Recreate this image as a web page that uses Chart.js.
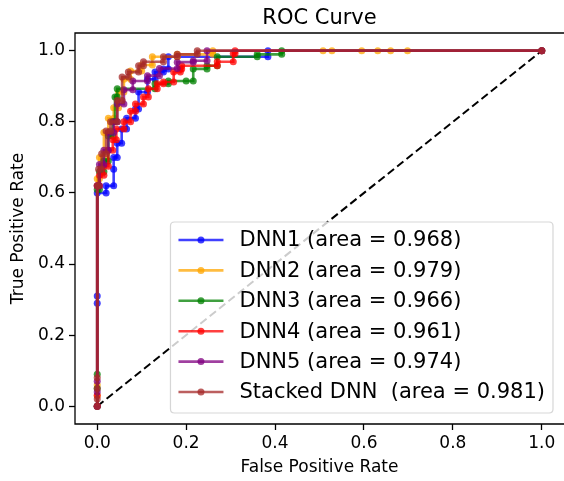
<!DOCTYPE html>
<html><head><meta charset="utf-8">
<script src="https://cdn.jsdelivr.net/npm/chart.js@4.4.1/dist/chart.umd.min.js"></script>
<style>html,body{margin:0;padding:0;background:#fff;overflow:hidden;}canvas{display:block;}</style>
</head><body>
<canvas id="c" width="564" height="481"></canvas>
<script>
const titleText = 'ROC Curve';
const xTitle = 'False Positive Rate';
const yTitle = 'True Positive Rate';
const xTicks = [0, 0.2, 0.4, 0.6, 0.8, 1.0];
const yTicks = [0, 0.2, 0.4, 0.6, 0.8, 1.0];
const seriesNames = ['DNN1', 'DNN2', 'DNN3', 'DNN4', 'DNN5', 'Stacked DNN '];
const seriesAreas = [0.968, 0.979, 0.966, 0.961, 0.974, 0.981];
const seriesColors = ['0,0,255', '255,165,0', '0,128,0', '255,0,0', '128,0,128', '165,42,42'];

const dnn1 = [[0,0],[0,0.29],[0,0.31],[0,0.6],[0.02,0.6],[0.02,0.62],[0.037,0.62],[0.037,0.667],[0.037,0.70],[0.045,0.70],[0.045,0.74],[0.055,0.74],[0.055,0.78],[0.066,0.78],[0.066,0.81],[0.086,0.81],[0.086,0.836],[0.093,0.836],[0.093,0.884],[0.113,0.884],[0.113,0.92],[0.13,0.92],[0.13,0.94],[0.149,0.94],[0.149,0.949],[0.16,0.949],[0.16,0.983],[0.384,0.983],[0.384,1.0],[1,1]];
const dnn2 = [[0,0],[0,0.03],[0,0.06],[0,0.64],[0.005,0.64],[0.005,0.70],[0.015,0.70],[0.015,0.77],[0.025,0.77],[0.025,0.81],[0.037,0.81],[0.037,0.84],[0.048,0.84],[0.048,0.884],[0.06,0.884],[0.06,0.92],[0.075,0.92],[0.075,0.943],[0.1,0.943],[0.1,0.96],[0.124,0.96],[0.124,0.983],[0.18,0.983],[0.18,0.99],[0.26,0.99],[0.26,1.0],[0.508,1],[0.528,1],[0.595,1],[0.631,1],[0.66,1],[0.698,1],[1,1]];
const dnn3 = [[0,0],[0,0.05],[0,0.09],[0,0.61],[0.005,0.61],[0.005,0.66],[0.015,0.66],[0.015,0.69],[0.025,0.69],[0.025,0.76],[0.035,0.76],[0.035,0.80],[0.04,0.80],[0.04,0.87],[0.045,0.87],[0.045,0.893],[0.13,0.893],[0.13,0.907],[0.16,0.907],[0.16,0.915],[0.2,0.915],[0.216,0.915],[0.216,0.949],[0.247,0.949],[0.247,0.958],[0.27,0.958],[0.27,0.983],[0.36,0.983],[0.36,0.99],[0.415,0.99],[0.415,1.0],[1,1]];
const dnn4 = [[0,0],[0,0.03],[0,0.62],[0.005,0.62],[0.005,0.65],[0.015,0.65],[0.015,0.675],[0.025,0.675],[0.025,0.72],[0.035,0.72],[0.035,0.75],[0.043,0.75],[0.043,0.78],[0.06,0.78],[0.06,0.80],[0.075,0.80],[0.075,0.83],[0.086,0.83],[0.086,0.85],[0.104,0.85],[0.104,0.87],[0.115,0.87],[0.115,0.893],[0.135,0.893],[0.135,0.907],[0.149,0.907],[0.149,0.912],[0.172,0.912],[0.172,0.94],[0.187,0.94],[0.187,0.949],[0.19,0.949],[0.19,0.958],[0.27,0.958],[0.27,0.969],[0.306,0.969],[0.306,0.992],[0.31,0.992],[0.31,1.0],[1,1]];
const dnn5 = [[0,0],[0,0.04],[0,0.07],[0,0.62],[0.005,0.62],[0.005,0.68],[0.015,0.68],[0.015,0.72],[0.025,0.72],[0.025,0.77],[0.037,0.77],[0.037,0.80],[0.045,0.80],[0.045,0.85],[0.06,0.85],[0.06,0.89],[0.08,0.89],[0.08,0.915],[0.113,0.915],[0.113,0.93],[0.14,0.93],[0.14,0.95],[0.18,0.95],[0.18,0.968],[0.216,0.968],[0.216,0.972],[0.247,0.972],[0.247,1.0],[1,1]];
const stacked = [[0,0],[0,0.02],[0,0.05],[0,0.08],[0,0.62],[0.003,0.62],[0.003,0.667],[0.01,0.667],[0.01,0.71],[0.02,0.71],[0.02,0.774],[0.03,0.774],[0.03,0.80],[0.045,0.80],[0.045,0.86],[0.056,0.86],[0.056,0.926],[0.07,0.926],[0.07,0.94],[0.093,0.94],[0.093,0.958],[0.104,0.958],[0.104,0.969],[0.149,0.969],[0.149,0.983],[0.18,0.983],[0.18,0.99],[0.225,0.99],[0.225,1.0],[1,1]];
const chance = [[0,0],[1,1]];
const seriesData = [dnn1, dnn2, dnn3, dnn4, dnn5, stacked];

Chart.defaults.font.family = '"DejaVu Sans", sans-serif';
Chart.defaults.color = '#000';

const datasets = seriesData.map((arr, i) => {
  const c = 'rgba(' + seriesColors[i] + ',0.75)';
  return {
    label: seriesNames[i] + ' (area = ' + seriesAreas[i].toFixed(3) + ')',
    data: arr.map(p => ({x: p[0], y: p[1]})),
    borderColor: c, backgroundColor: c, pointBackgroundColor: c,
    borderWidth: 2.6, pointRadius: 3.5, pointBorderWidth: 0, pointHoverRadius: 3.5,
    tension: 0, fill: false, order: 6 - i, showInLegend: true
  };
});
datasets.push({
  label: 'chance', data: chance.map(p => ({x: p[0], y: p[1]})),
  borderColor: '#000', borderDash: [8, 4], borderWidth: 2, pointRadius: 0,
  fill: false, order: 20, showInLegend: false
});

function axis(title, ticks, pos, titlePad) {
  return {
    type: 'linear', position: pos, min: -0.05, max: 1.05,
    afterBuildTicks: s => { s.ticks = ticks.map(v => ({value: v})); },
    afterFit: s => {
      if (pos === 'left') s.width = 75; else s.height = 57;
      s.paddingLeft = 0; s.paddingRight = 0; s.paddingTop = 0; s.paddingBottom = 0;
    },
    ticks: { font: {size: 17}, color: '#000', padding: pos === 'left' ? 4 : 3,
             callback: v => Number(v).toFixed(1), maxRotation: 0, autoSkip: false },
    grid: { display: true, drawOnChartArea: false, drawTicks: true, tickLength: 6,
            tickWidth: 1.3, tickColor: '#000' },
    border: { display: false },
    title: { display: true, text: title, font: {size: 17}, color: '#000', padding: titlePad }
  };
}

const decor = {
  id: 'decor',
  afterDatasetsDraw(chart) {
    const {ctx, chartArea: a} = chart;
    ctx.save();
    ctx.strokeStyle = '#000'; ctx.lineWidth = 1.3;
    ctx.beginPath();
    ctx.moveTo(a.right + 2, a.top); ctx.lineTo(a.left, a.top); ctx.lineTo(a.left, a.bottom); ctx.lineTo(a.right + 2, a.bottom);
    ctx.stroke();
    // legend
    const fs = 21;
    ctx.font = fs + 'px "DejaVu Sans"';
    const items = chart.data.datasets.filter(d => d.showInLegend);
    const maxW = Math.max(...items.map(d => ctx.measureText(d.label).width));
    const pad = 8, handle = 45, gap = 16, rowH = 30.4;
    const w = pad + handle + gap + maxW + pad, h = 191;
    const right = a.right - 11, bottom = a.bottom - 11;
    const left = right - w, top = bottom - h, r = 4;
    ctx.beginPath();
    ctx.moveTo(left + r, top); ctx.lineTo(right - r, top); ctx.quadraticCurveTo(right, top, right, top + r);
    ctx.lineTo(right, bottom - r); ctx.quadraticCurveTo(right, bottom, right - r, bottom);
    ctx.lineTo(left + r, bottom); ctx.quadraticCurveTo(left, bottom, left, bottom - r);
    ctx.lineTo(left, top + r); ctx.quadraticCurveTo(left, top, left + r, top); ctx.closePath();
    ctx.fillStyle = 'rgba(255,255,255,0.8)'; ctx.fill();
    ctx.strokeStyle = 'rgba(204,204,204,0.8)'; ctx.lineWidth = 1.2; ctx.stroke();
    items.forEach((d, i) => {
      const cy = top + 18 + i * rowH;
      const x0 = left + pad, x1 = x0 + handle;
      ctx.strokeStyle = d.borderColor; ctx.lineWidth = d.borderWidth;
      ctx.beginPath(); ctx.moveTo(x0, cy); ctx.lineTo(x1, cy); ctx.stroke();
      ctx.fillStyle = d.borderColor;
      ctx.beginPath(); ctx.arc((x0 + x1) / 2, cy, 3.5, 0, Math.PI * 2); ctx.fill();
      ctx.fillStyle = '#000'; ctx.textBaseline = 'middle'; ctx.textAlign = 'left';
      ctx.fillText(d.label, x1 + gap, cy + 1);
    });
    // title
    ctx.font = '21px "DejaVu Sans"'; ctx.textAlign = 'center'; ctx.textBaseline = 'middle';
    ctx.fillStyle = '#000';
    ctx.fillText(titleText, (a.left + a.right) / 2, 18.5);
    ctx.restore();
  }
};

new Chart(document.getElementById('c'), {
  type: 'line',
  data: { datasets },
  options: {
    responsive: false, animation: false, devicePixelRatio: 1,
    layout: { autoPadding: false, padding: { top: 33, right: 0, left: 0, bottom: 0 } },
    plugins: { legend: { display: false }, tooltip: { enabled: false }, title: { display: false } },
    events: [],
    scales: {
      x: axis(xTitle, xTicks, 'bottom', {top: 4, bottom: 3}),
      y: axis(yTitle, yTicks, 'left', {top: 8, bottom: 4})
    }
  },
  plugins: [decor]
});
</script>
</body></html>
